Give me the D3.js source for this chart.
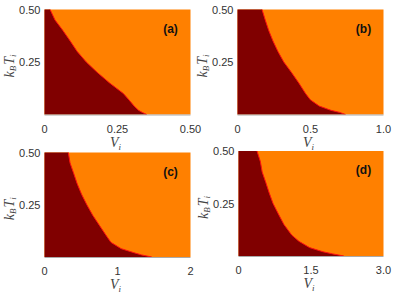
<!DOCTYPE html>
<html><head><meta charset="utf-8">
<script src="https://cdn.jsdelivr.net/npm/d3@7"></script>
<style>body{margin:0;background:#fff}svg{display:block}</style>
</head><body>
<svg id="c" width="397" height="297"></svg>
<script>
const temps = [0.50, 0.45, 0.40, 0.35, 0.30, 0.25, 0.20, 0.15, 0.10, 0.07, 0.04, 0.02, 0.01, 0.0];
const boundaryA = [0.019, 0.036, 0.063, 0.088, 0.112, 0.143, 0.181, 0.223, 0.270, 0.289, 0.307, 0.322, 0.335, 0.35];
const boundaryB = [0.168, 0.19, 0.214, 0.243, 0.277, 0.317, 0.37, 0.42, 0.466, 0.499, 0.56, 0.64, 0.70, 0.74];
const boundaryC = [0.326, 0.35, 0.40, 0.448, 0.508, 0.58, 0.66, 0.755, 0.85, 0.91, 1.05, 1.23, 1.33, 1.47];
const boundaryD = [0.383, 0.452, 0.49, 0.565, 0.636, 0.715, 0.825, 0.94, 1.10, 1.25, 1.47, 1.75, 1.95, 2.18];
const xMaxes = [0.5, 1.0, 2, 3.0];
const xTicks = [[0, 0.25, 0.5], [0, 0.5, 1.0], [0, 1, 2], [0, 1.5, 3.0]];
const xTickLabels = [["0", "0.25", "0.50"], ["0", "0.5", "1.0"], ["0", "1", "2"], ["0", "1.5", "3.0"]];
const yTicks = [0.25, 0.5];
const yTickLabels = ["0.25", "0.50"];
const panelLabels = ["(a)", "(b)", "(c)", "(d)"];
const boundaries = [boundaryA, boundaryB, boundaryC, boundaryD];

const boxes = [
  {x0: 44.5, x1: 190.5, y0: 9.5, y1: 114.5},
  {x0: 237.5, x1: 383.5, y0: 9.5, y1: 114.5},
  {x0: 44.5, x1: 190.5, y0: 152.5, y1: 257},
  {x0: 238.5, x1: 383.5, y0: 151, y1: 256}
];

const svg = d3.select("#c");
boxes.forEach((b, i) => {
  const x = d3.scaleLinear().domain([0, xMaxes[i]]).range([b.x0, b.x1]);
  const y = d3.scaleLinear().domain([0, 0.5]).range([b.y1, b.y0]);
  const g = svg.append("g");
  g.append("rect").attr("x", b.x0).attr("y", b.y0).attr("width", b.x1 - b.x0).attr("height", b.y1 - b.y0).attr("fill", "#FF8000");
  const pts = temps.map((t, k) => ({t, v: boundaries[i][k]}));
  const area = d3.area().y(d => y(d.t)).x0(x(0)).x1(d => x(d.v));
  g.append("path").datum(pts).attr("d", area).attr("fill", "#800000");
  const line = d3.line().y(d => y(d.t)).x(d => x(d.v));
  g.append("path").datum(pts).attr("d", line).attr("fill", "none").attr("stroke", "#FF1010").attr("stroke-width", 1);
  g.append("line").attr("x1", b.x0).attr("x2", b.x1).attr("y1", b.y1 + 0.5).attr("y2", b.y1 + 0.5).attr("stroke", "#aaa").attr("stroke-width", 1);
  g.selectAll(".xt").data(xTicks[i]).enter().append("text")
    .attr("x", d => x(d)).attr("y", b.y1 + 18)
    .attr("text-anchor", "middle").attr("font-family", "Liberation Sans, Arial, sans-serif")
    .attr("font-size", 11).attr("fill", "#333")
    .text((d, k) => xTickLabels[i][k]);
  g.selectAll(".yt").data(yTicks).enter().append("text")
    .attr("x", b.x0 - 4).attr("y", d => y(d) + 4)
    .attr("text-anchor", "end").attr("font-family", "Liberation Sans, Arial, sans-serif")
    .attr("font-size", 11).attr("fill", "#333")
    .text((d, k) => yTickLabels[k]);
  const xl = g.append("text").attr("x", (b.x0 + b.x1) / 2 - 2).attr("y", b.y1 + 32)
    .attr("text-anchor", "middle").attr("font-family", "Liberation Serif, Times New Roman, serif")
    .attr("font-style", "italic").attr("font-size", 14).attr("fill", "#444");
  xl.append("tspan").text("V");
  xl.append("tspan").attr("font-size", 9).attr("dy", 3).text("i");
  const cy = (b.y0 + b.y1) / 2 + 4;
  const yl = g.append("text").attr("transform", `translate(${b.x0 - 31},${cy}) rotate(-90)`)
    .attr("text-anchor", "middle").attr("font-family", "Liberation Serif, Times New Roman, serif")
    .attr("font-style", "italic").attr("font-size", 14).attr("fill", "#444");
  yl.append("tspan").text("k");
  yl.append("tspan").attr("font-size", 9).attr("dy", 2.5).text("B");
  yl.append("tspan").attr("dy", -2.5).attr("dx", 1).text("T");
  yl.append("tspan").attr("font-size", 9).attr("dy", 2.5).text("i");
  g.append("text").attr("x", b.x1 - 20).attr("y", b.y0 + 23)
    .attr("text-anchor", "middle").attr("font-family", "Liberation Sans, Arial, sans-serif")
    .attr("font-weight", "bold").attr("font-size", 12).attr("fill", "#111")
    .text(panelLabels[i]);
});
</script>
</body></html>
